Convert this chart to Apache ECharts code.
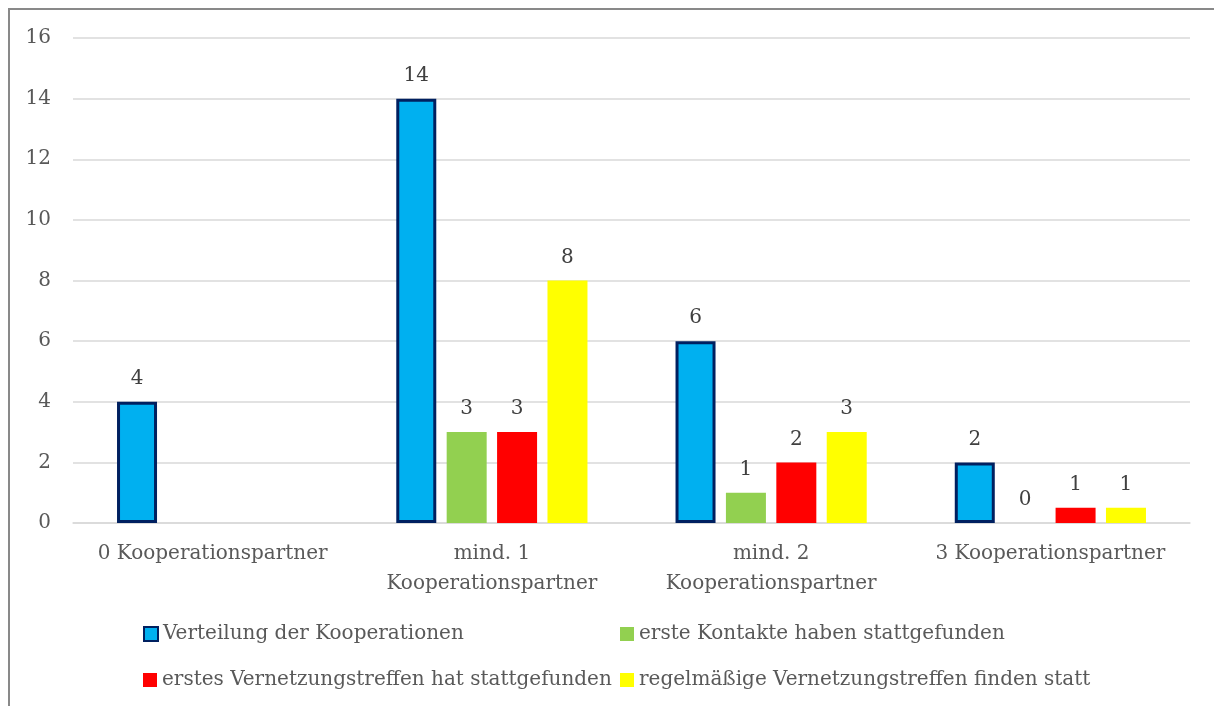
<!DOCTYPE html>
<html>
<head>
<meta charset="utf-8">
<script src="https://cdn.jsdelivr.net/npm/echarts@6/dist/echarts.min.js"></script>
<style>
html,body{margin:0;padding:0;background:#fff;}
#chart{width:1214px;height:706px;}
</style>
</head>
<body>
<div id="chart"></div>
<script>
const categories = ["0 Kooperationspartner", "mind. 1\nKooperationspartner", "mind. 2\nKooperationspartner", "3 Kooperationspartner"];
const seriesNames = ["Verteilung der Kooperationen", "erste Kontakte haben stattgefunden", "erstes Vernetzungstreffen hat stattgefunden", "regelmäßige Vernetzungstreffen finden statt"];
const verteilung = [4, 14, 6, 2];
const ersteKontakte = [null, 3, 1, 0];
const erstesTreffen = [null, 3, 2, 0.5];
const regelmaessig = [null, 8, 3, 0.5];
// printed data labels (as shown in the picture)
const verteilungLabels = ["4", "14", "6", "2"];
const ersteKontakteLabels = ["", "3", "1", "0"];
const erstesTreffenLabels = ["", "3", "2", "1"];
const regelmaessigLabels = ["", "8", "3", "1"];
const yTicks = [0, 2, 4, 6, 8, 10, 12, 14, 16];

const FONT = "DejaVu Serif";
const colors = ["#00B0F0", "#92D050", "#FF0000", "#FFFF00"];
const valuesList = [verteilung, ersteKontakte, erstesTreffen, regelmaessig];
const labelsList = [verteilungLabels, ersteKontakteLabels, erstesTreffenLabels, regelmaessigLabels];

const chart = echarts.init(document.getElementById('chart'));

const series = valuesList.map((vals, i) => ({
  name: seriesNames[i],
  type: 'bar',
  data: vals,
  barWidth: 40,
  barGap: '26%',
  itemStyle: i === 0 ? { color: colors[i], borderColor: '#002060', borderWidth: 3 } : { color: colors[i] },
  label: {
    show: true,
    position: 'top',
    distance: 13,
    fontFamily: FONT,
    fontSize: 20,
    color: '#404040',
    formatter: p => labelsList[i][p.dataIndex]
  }
}));

const legendPos = [
  { left: 143, top: 624 },
  { left: 620, top: 624 },
  { left: 143, top: 670 },
  { left: 620, top: 670 }
];

chart.setOption({
  animation: false,
  backgroundColor: '#fff',
  graphic: [{
    type: 'rect',
    shape: { x: 9, y: 9, width: 1230, height: 730 },
    style: { fill: 'none', stroke: '#898989', lineWidth: 2 },
    silent: true
  }],
  grid: { left: 73, right: 24, top: 38, bottom: 183, containLabel: false },
  legend: legendPos.map((p, i) => ({
    data: [seriesNames[i]],
    left: p.left,
    top: p.top,
    padding: 0,
    itemWidth: 14,
    itemHeight: 14,
    itemGap: 0,
    selectedMode: false,
    textStyle: { fontFamily: FONT, fontSize: 20, color: '#595959', padding: [0, 0, 0, 0] },
    icon: 'rect'
  })),
  xAxis: {
    type: 'category',
    data: categories,
    axisLine: { show: true, lineStyle: { color: '#d9d9d9', width: 1.5 } },
    axisTick: { show: false },
    axisLabel: {
      fontFamily: FONT, fontSize: 20, color: '#595959', margin: 16, lineHeight: 30, interval: 0
    }
  },
  yAxis: {
    type: 'value',
    min: yTicks[0],
    max: yTicks[yTicks.length - 1],
    interval: 2,
    axisLine: { show: false },
    axisTick: { show: false },
    splitLine: { lineStyle: { color: '#d9d9d9', width: 1.5 } },
    axisLabel: { fontFamily: FONT, fontSize: 20, color: '#595959', margin: 22 }
  },
  series: series
});
</script>
</body>
</html>
